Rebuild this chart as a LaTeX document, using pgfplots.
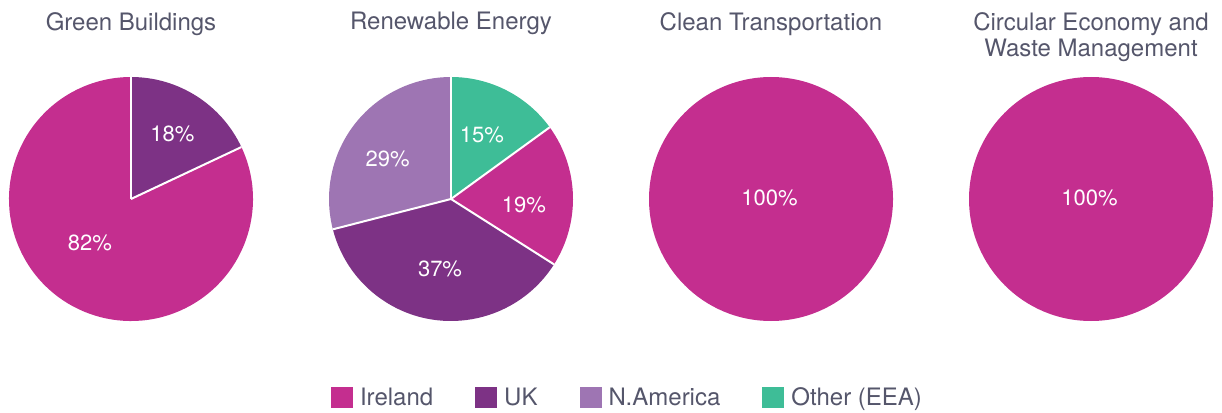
\documentclass[border=0pt]{standalone}
\usepackage{pgfplots}
\pgfplotsset{compat=1.18}
\usepackage{pgfplotstable}
\usepackage{fontspec}
\setmainfont{TeX Gyre Heros}
\definecolor{irc}{HTML}{C42E8F}
\definecolor{ukc}{HTML}{7D3285}
\definecolor{nac}{HTML}{9E75B3}
\definecolor{otc}{HTML}{3EBD97}
\definecolor{txt}{HTML}{55566B}

% share (percent), colour, label position (axis units, radius = 1), label
\pgfplotstableread{
share col lx ly lab
18 ukc 0.340 0.533 18
82 irc -0.336 -0.360 82
}\tabGB
\pgfplotstableread{
share col lx ly lab
15 otc 0.254 0.529 15
19 irc 0.598 -0.045 19
37 ukc -0.090 -0.570 37
29 nac -0.520 0.332 29
}\tabRE
\pgfplotstableread{
share col lx ly lab
100 irc -0.012 0.012 100
}\tabCT
\pgfplotstableread{
share col lx ly lab
100 irc -0.012 0.012 100
}\tabCE

\newcommand{\pieR}{122bp}
\newcommand{\pie}[1]{%
  \pgfplotstablegetrowsof{#1}%
  \pgfmathtruncatemacro{\nrows}{\pgfplotsretval-1}%
  \gdef\startang{90}%
  \pgfplotsforeachungrouped \i in {0,...,\nrows}{%
    \pgfplotstablegetelem{\i}{share}\of{#1}\let\sh=\pgfplotsretval
    \pgfplotstablegetelem{\i}{col}\of{#1}\let\cl=\pgfplotsretval
    \pgfmathsetmacro{\endang}{\startang-3.6*\sh}%
    \edef\temp{\noexpand\fill[\cl] (axis cs:0,0) -- (axis cs:{cos(\startang)},{sin(\startang)}) arc[start angle=\startang, end angle=\endang, radius=\noexpand\pieR] -- cycle;}%
    \temp
    \global\let\startang=\endang
  }%
  \gdef\startang{90}%
  \pgfplotsforeachungrouped \i in {0,...,\nrows}{%
    \pgfplotstablegetelem{\i}{share}\of{#1}\let\sh=\pgfplotsretval
    \pgfmathsetmacro{\endang}{\startang-3.6*\sh}%
    \ifdim\sh pt<100pt
      \edef\temp{\noexpand\draw[white, line width=2bp] (axis cs:0,0) -- (axis cs:{cos(\startang)},{sin(\startang)});}%
      \temp
    \fi
    \global\let\startang=\endang
  }%
  \pgfplotsforeachungrouped \i in {0,...,\nrows}{%
    \pgfplotstablegetelem{\i}{lx}\of{#1}\let\lx=\pgfplotsretval
    \pgfplotstablegetelem{\i}{ly}\of{#1}\let\ly=\pgfplotsretval
    \pgfplotstablegetelem{\i}{lab}\of{#1}\let\lb=\pgfplotsretval
    \edef\temp{\noexpand\node[text=white, inner sep=0pt, anchor=center, font=\noexpand\fontsize{22bp}{24bp}\noexpand\selectfont] at (axis cs:\lx,\ly) {\lb\noexpand\%};}%
    \temp
  }%
}

\pgfplotsset{
  pieaxis/.style={
    width=244bp, height=244bp, scale only axis, hide axis, clip=false,
    xmin=-1, xmax=1, ymin=-1, ymax=1, anchor=center,
    title style={at={(0.5,1)}, anchor=north, yshift=59bp, inner sep=0pt,
      align=center, text=txt, font=\fontsize{24bp}{26bp}\selectfont},
  },
}

\begin{document}
\begin{tikzpicture}[x=1bp, y=1bp]
\path[use as bounding box] (0,0) rectangle (1222,412);

\begin{axis}[pieaxis, at={(131bp,213bp)}, title={Green Buildings}]
\pie{\tabGB}
\end{axis}

\begin{axis}[pieaxis, at={(451bp,213bp)}, title={Renewable Energy}]
\pie{\tabRE}
\end{axis}

\begin{axis}[pieaxis, at={(771bp,213bp)}, title={Clean Transportation}]
\pie{\tabCT}
\end{axis}

\begin{axis}[pieaxis, at={(1091bp,213bp)}, title={Circular Economy and\\Waste Management}]
\pie{\tabCE}
\end{axis}

\begin{axis}[at={(0bp,0bp)}, anchor=south west, width=1222bp, height=412bp,
  scale only axis, hide axis, xmin=0, xmax=1, ymin=0, ymax=1,
  legend columns=4,
  legend style={at={(0.5135,0.0364)}, anchor=center, draw=none, fill=none,
    text=txt, font=\fontsize{24bp}{24bp}\selectfont,
    /tikz/every even column/.append style={column sep=40bp},
    /tikz/every odd column/.append style={column sep=0bp}},
  legend cell align=left,
  legend image code/.code={\fill[#1, draw=none] (0bp,-10.5bp) rectangle (22bp,10.5bp); \path[draw=none, fill=none] (0bp,0bp) -- (27bp,0bp);}]
\addlegendimage{irc}\addlegendentry{Ireland}
\addlegendimage{ukc}\addlegendentry{UK}
\addlegendimage{nac}\addlegendentry{N.America}
\addlegendimage{otc}\addlegendentry{Other (EEA)}
\end{axis}
\end{tikzpicture}
\end{document}
